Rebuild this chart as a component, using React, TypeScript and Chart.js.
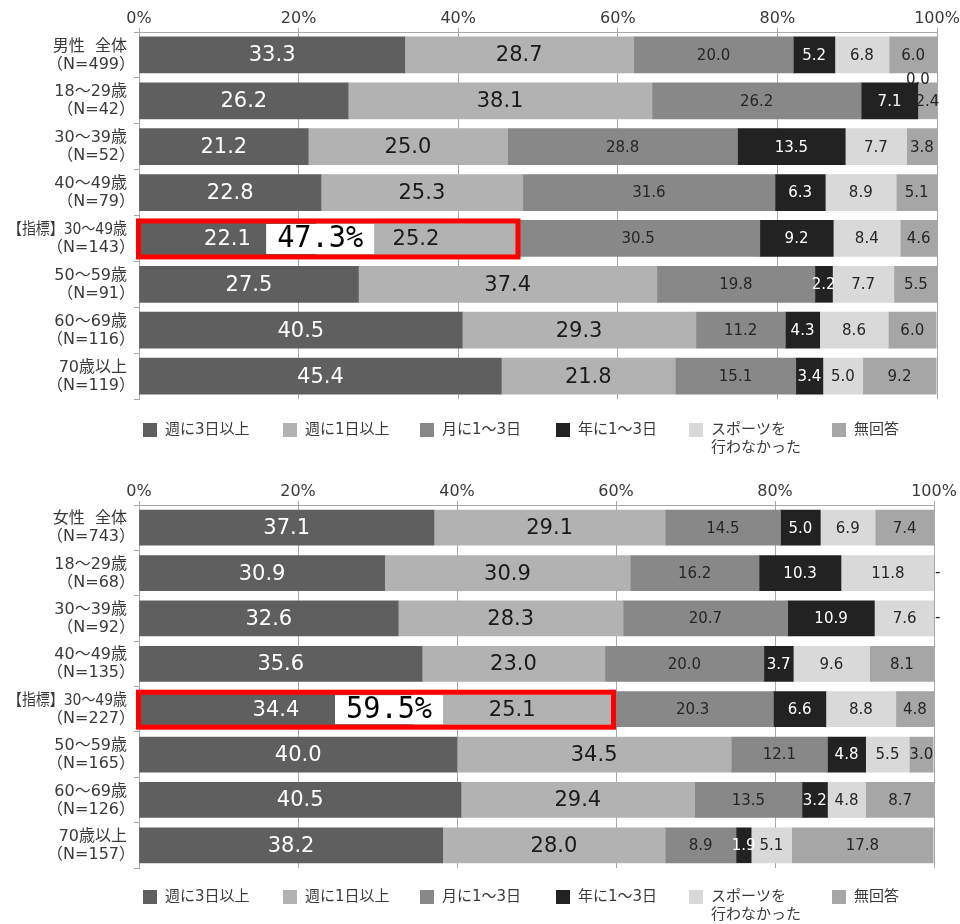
import React, { useEffect, useRef } from 'react';
import { Chart, registerables } from 'chart.js';

Chart.register(...registerables);

// ---------- data ----------
const seriesNames = ['週に3日以上', '週に1日以上', '月に1～3日', '年に1～3日', 'スポーツを行わなかった', '無回答'];
const legendLines = [['週に3日以上'], ['週に1日以上'], ['月に1～3日'], ['年に1～3日'], ['スポーツを', '行わなかった'], ['無回答']];
const xTickValues = [0, 20, 40, 60, 80, 100];

const maleCategories = [
  ['男性  全体', '（N=499）'],
  ['18～29歳', '（N=42）'],
  ['30～39歳', '（N=52）'],
  ['40～49歳', '（N=79）'],
  ['【指標】30～49歳', '（N=143）'],
  ['50～59歳', '（N=91）'],
  ['60～69歳', '（N=116）'],
  ['70歳以上', '（N=119）'],
];
const male3PerWeek = [33.3, 26.2, 21.2, 22.8, 22.1, 27.5, 40.5, 45.4];
const male1PerWeek = [28.7, 38.1, 25.0, 25.3, 25.2, 37.4, 29.3, 21.8];
const maleMonthly = [20.0, 26.2, 28.8, 31.6, 30.5, 19.8, 11.2, 15.1];
const maleYearly = [5.2, 7.1, 13.5, 6.3, 9.2, 2.2, 4.3, 3.4];
const maleNoSport = [6.8, 0.0, 7.7, 8.9, 8.4, 7.7, 8.6, 5.0];
const maleNoAnswer = [6.0, 2.4, 3.8, 5.1, 4.6, 5.5, 6.0, 9.2];

const femaleCategories = [
  ['女性  全体', '（N=743）'],
  ['18～29歳', '（N=68）'],
  ['30～39歳', '（N=92）'],
  ['40～49歳', '（N=135）'],
  ['【指標】30～49歳', '（N=227）'],
  ['50～59歳', '（N=165）'],
  ['60～69歳', '（N=126）'],
  ['70歳以上', '（N=157）'],
];
const female3PerWeek = [37.1, 30.9, 32.6, 35.6, 34.4, 40.0, 40.5, 38.2];
const female1PerWeek = [29.1, 30.9, 28.3, 23.0, 25.1, 34.5, 29.4, 28.0];
const femaleMonthly = [14.5, 16.2, 20.7, 20.0, 20.3, 12.1, 13.5, 8.9];
const femaleYearly = [5.0, 10.3, 10.9, 3.7, 6.6, 4.8, 3.2, 1.9];
const femaleNoSport = [6.9, 11.8, 7.6, 9.6, 8.8, 5.5, 4.8, 5.1];
const femaleNoAnswer = [7.4, 0, 0, 8.1, 4.8, 3.0, 8.7, 17.8];

const highlightRow = 4;

// ---------- styles ----------
const FONT = "'DejaVu Sans', 'Noto Sans CJK JP', sans-serif";
const seriesColors = ['#5f5f5f', '#b2b2b2', '#888888', '#222222', '#d9d9d9', '#a6a6a6'];
const labelColors = ['#ffffff', '#1a1a1a', '#262626', '#ffffff', '#262626', '#262626'];
const labelSizes = [21, 21, 15, 15, 15, 15];
const gridColor = '#a8a8a8';
const textColor = '#3a3a3a';
const legendX = [143, 283, 420, 556, 689, 832];

type PanelCfg = {
  categories: string[][];
  series: number[][];
  plotTop: number;
  plotBottom: number;
  padRight: number;
  barThickness: number;
  zeroStyle: 'above' | 'dash';
  boxCenterValue: number;
  legendY: number;
};

const CANVAS_H = 462;

const panels: PanelCfg[] = [
  {
    categories: maleCategories,
    series: [male3PerWeek, male1PerWeek, maleMonthly, maleYearly, maleNoSport, maleNoAnswer],
    plotTop: 32,
    plotBottom: 399,
    padRight: 23,
    barThickness: 36,
    zeroStyle: 'above',
    boxCenterValue: 22.7,
    legendY: 430,
  },
  {
    categories: femaleCategories,
    series: [female3PerWeek, female1PerWeek, femaleMonthly, femaleYearly, femaleNoSport, femaleNoAnswer],
    plotTop: 43,
    plotBottom: 406,
    padRight: 26,
    barThickness: 35,
    zeroStyle: 'dash',
    boxCenterValue: 31.45,
    legendY: 435,
  },
];

function makePlugin(p: PanelCfg) {
  return {
    id: 'customDraw',
    afterDatasetsDraw(chart: any) {
      const ctx: CanvasRenderingContext2D = chart.ctx;
      const xs = chart.scales.x;
      ctx.save();
      // data labels
      chart.data.datasets.forEach((ds: any, di: number) => {
        const meta = chart.getDatasetMeta(di);
        meta.data.forEach((bar: any, i: number) => {
          const v = ds.data[i];
          const pr = bar.getProps(['x', 'base', 'y', 'height'], true);
          ctx.font = `${labelSizes[di]}px ${FONT}`;
          ctx.textAlign = 'center';
          ctx.textBaseline = 'middle';
          if (v === 0) {
            ctx.fillStyle = '#262626';
            if (p.zeroStyle === 'above') {
              ctx.fillText('0.0', pr.x, pr.y - 21);
            } else {
              ctx.textAlign = 'left';
              ctx.fillText('-', Math.min(pr.x, xs.right) + 1, pr.y);
            }
            return;
          }
          ctx.fillStyle = labelColors[di];
          ctx.fillText(v.toFixed(1), (pr.x + pr.base) / 2, pr.y + 1);
        });
      });

      // highlight
      const hb = chart.getDatasetMeta(0).data[highlightRow].getProps(['y', 'height'], true);
      const top = hb.y - hb.height / 2;
      const bottom = hb.y + hb.height / 2;
      const sum = p.series[0][highlightRow] + p.series[1][highlightRow];
      const x0 = xs.getPixelForValue(0);
      const x1 = xs.getPixelForValue(sum);
      // white box with the combined percentage
      const bc = xs.getPixelForValue(p.boxCenterValue);
      ctx.fillStyle = '#ffffff';
      ctx.fillRect(bc - 54, top + 3.5, 108, bottom - top - 6);
      ctx.fillStyle = '#000000';
      ctx.font = `31px 'DejaVu Sans Mono', monospace`;
      ctx.textAlign = 'center';
      ctx.textBaseline = 'middle';
      ctx.fillText(sum.toFixed(1) + '%', bc, hb.y + 1, 86);
      // red frame
      ctx.strokeStyle = '#ff0000';
      ctx.lineWidth = 5;
      ctx.strokeRect(x0 - 0.5, top + 0.5, x1 + 2 - x0, bottom - top);
      ctx.restore();
    },
    afterDraw(chart: any) {
      const ctx: CanvasRenderingContext2D = chart.ctx;
      const ys = chart.scales.y;
      ctx.save();
      // category labels
      ctx.font = `16px ${FONT}`;
      ctx.fillStyle = textColor;
      ctx.textAlign = 'right';
      ctx.textBaseline = 'middle';
      p.categories.forEach((lines, i) => {
        const y = ys.getPixelForValue(i);
        ctx.fillText(lines[0], 127, y - 8.5, 119);
        ctx.fillText(lines[1], 135, y + 9.5, 124);
      });
      // legend
      ctx.font = `15px ${FONT}`;
      ctx.textAlign = 'left';
      legendLines.forEach((lines, i) => {
        ctx.fillStyle = seriesColors[i];
        ctx.fillRect(legendX[i], p.legendY - 7, 14, 14);
        ctx.fillStyle = textColor;
        lines.forEach((t, k) => ctx.fillText(t, legendX[i] + 22, p.legendY + k * 18.5));
      });
      ctx.restore();
    },
  };
}

function buildConfig(p: PanelCfg): any {
  return {
    type: 'bar',
    data: {
      labels: p.categories.map((c) => c.join(' ')),
      datasets: p.series.map((data, i) => ({
        label: seriesNames[i],
        data,
        backgroundColor: seriesColors[i],
        borderWidth: 0,
        barThickness: p.barThickness,
      })),
    },
    options: {
      indexAxis: 'y',
      responsive: false,
      maintainAspectRatio: false,
      animation: false,
      layout: { padding: { left: 0, right: p.padRight, top: 0, bottom: CANVAS_H - p.plotBottom } },
      scales: {
        x: {
          type: 'linear',
          position: 'top',
          stacked: true,
          min: 0,
          max: 100,
          afterBuildTicks: (s: any) => {
            s.ticks = xTickValues.map((v) => ({ value: v }));
          },
          ticks: {
            callback: (v: any) => v + '%',
            font: { family: FONT, size: 16 },
            color: textColor,
            padding: 0,
            maxRotation: 0,
          },
          grid: { color: gridColor, tickLength: 4 },
          border: { color: gridColor },
          afterFit: (s: any) => {
            s.height = p.plotTop;
          },
        },
        y: {
          stacked: true,
          ticks: { display: false },
          grid: { drawOnChartArea: false, offset: true, tickLength: 5, color: gridColor },
          border: { color: gridColor },
          afterFit: (s: any) => {
            s.width = 139;
          },
        },
      },
      plugins: { legend: { display: false }, tooltip: { enabled: false } },
    },
    plugins: [makePlugin(p)],
  };
}

function Panel({ cfg, top }: { cfg: PanelCfg; top: number }) {
  const ref = useRef<HTMLCanvasElement>(null);
  useEffect(() => {
    if (!ref.current) return;
    const chart = new Chart(ref.current, buildConfig(cfg));
    return () => chart.destroy();
  }, [cfg]);
  return (
    <canvas
      ref={ref}
      width={960}
      height={CANVAS_H}
      style={{ position: 'absolute', left: 0, top, width: 960, height: CANVAS_H }}
    />
  );
}

export default function App() {
  return (
    <div style={{ position: 'absolute', left: 0, top: 0, width: 960, height: 924, background: '#ffffff' }}>
      <Panel cfg={panels[0]} top={0} />
      <Panel cfg={panels[1]} top={CANVAS_H} />
    </div>
  );
}
